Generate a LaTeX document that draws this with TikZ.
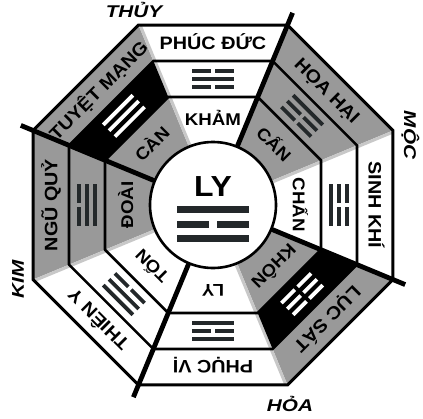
\documentclass[tikz,border=0pt]{standalone}
\usepackage{fontspec}
\usetikzlibrary{calc}
\setmainfont[FakeStretch=1.1]{Liberation Sans}
\newfontfamily\compassfont[FakeStretch=1.22]{Liberation Sans}
\definecolor{secgray}{RGB}{153,153,153}
\definecolor{softgray}{RGB}{200,200,200}
\definecolor{trink}{RGB}{35,40,42}
\def\yL{21}\def\yh{1.9}\def\yg{2}
\newcommand\myyao[3]{%
  \ifnum#2=1
    \fill[#3] (-\yL,#1-\yh) rectangle (\yL,#1+\yh);
  \else
    \fill[#3] (-\yL,#1-\yh) rectangle (-\yg,#1+\yh);
    \fill[#3] (\yg,#1-\yh) rectangle (\yL,#1+\yh);
  \fi}
\newcommand\mytri[5]{%
  \begin{scope}[shift={(#1:126)}, rotate=#1-90]
    \myyao{-8.3}{#2}{#5}\myyao{0}{#3}{#5}\myyao{8.3}{#4}{#5}
  \end{scope}}
\begin{document}
\begin{tikzpicture}[x=1pt,y=1pt,
  axisline/.style={line width=4.8pt},
  softedge/.style={line width=3pt, softgray},
  outerlbl/.style={font=\fontsize{18}{18}\selectfont\bfseries, inner sep=0pt, text height=13pt, text depth=0pt},
  innerlbl/.style={font=\fontsize{17}{17}\selectfont\bfseries, inner sep=0pt, text height=12.2pt, text depth=0pt},
  compass/.style={font=\compassfont\fontsize{17}{17}\selectfont\bfseries\itshape, inner sep=0pt, text height=12pt, text depth=0pt}]
\useasboundingbox (-213,-213) rectangle (210,205);
% gray sectors
\foreach \t in {135,45,180,-45}
  \fill[secgray] (0,0) -- (\t-22.5:194.83) -- (\t+22.5:194.83) -- cycle;
% soft fringes where gray meets white
\foreach \p/\o in {112.5/22.5, 22.5/-67.5, -67.5/-157.5, 202.5/292.5}
  \draw[softedge] ($(\p:63)+(\o:1.5)$) -- ($(\p:193)+(\o:1.5)$);
% black trigram bands
\foreach \t in {135,-45}
  \fill[black] (\t-22.5:155.87) -- (\t+22.5:155.87) -- (\t+22.5:116.90) -- (\t-22.5:116.90) -- cycle;
% ring octagons
\draw[line width=3pt, line join=miter] (22.5:194.83) \foreach \a in {67.5,112.5,...,337.5}{ -- (\a:194.83)} -- cycle;
\draw[line width=2.6pt, line join=miter] (22.5:155.87) \foreach \a in {67.5,112.5,...,337.5}{ -- (\a:155.87)} -- cycle;
\draw[line width=2.6pt, line join=miter] (22.5:116.90) \foreach \a in {67.5,112.5,...,337.5}{ -- (\a:116.90)} -- cycle;
% axis lines
\foreach \a in {67.5,157.5,247.5,337.5}
  \draw[axisline] (\a:62) -- (\a:208);
% centre
\filldraw[fill=white, line width=2.6pt] (0,0) circle[radius=63pt];
\node[font=\fontsize{29}{29}\selectfont\bfseries, inner sep=0pt, text height=21pt, text depth=0pt] (ly) at (0,18.7) {LY};
\begin{scope}
  \def\yL{36}\def\yh{3.3}\def\yg{4}
  \myyao{-4.3}{1}{trink}
  \myyao{-19.3}{0}{trink}
  \myyao{-33.7}{1}{trink}
\end{scope}
% trigrams
\mytri{90}{0}{1}{0}{trink}
\mytri{45}{0}{0}{1}{trink}
\mytri{0}{1}{0}{0}{trink}
\mytri{-45}{0}{0}{0}{white}
\mytri{-90}{1}{0}{1}{trink}
\mytri{-135}{0}{1}{1}{trink}
\mytri{180}{1}{1}{0}{trink}
\mytri{135}{1}{1}{1}{white}
% outer labels
\node[outerlbl, rotate=0] (o1) at (90:162) {PHÚC ĐỨC};
\node[outerlbl, rotate=-45] (o2) at (45:162) {HỌA HẠI};
\node[outerlbl, rotate=-90] (o3) at (0:162) {SINH KHÍ};
\node[outerlbl, rotate=-135] (o4) at (-45:162) {LỤC SÁT};
\node[outerlbl, rotate=180] (o5) at (-90:162) {PHỤC VỊ};
\node[outerlbl, rotate=135] (o6) at (-135:162) {THIÊN Y};
\node[outerlbl, rotate=90] (o7) at (180:162) {NGŨ QUỶ};
\node[outerlbl, rotate=45] (o8) at (135:162) {TUYỆT MẠNG};
% inner labels
\node[innerlbl, rotate=0] (i1) at (90:86) {KHẢM};
\node[innerlbl, rotate=-45] (i2) at (45:86) {CẤN};
\node[innerlbl, rotate=-90] (i3) at (0:86) {CHẤN};
\node[innerlbl, rotate=-135] (i4) at (-45:86) {KHÔN};
\node[innerlbl, rotate=180] (i5) at (-90:86) {LY};
\node[innerlbl, rotate=135] (i6) at (-135:86) {TỐN};
\node[innerlbl, rotate=90] (i7) at (180:86) {ĐOÀI};
\node[innerlbl, rotate=45] (i8) at (135:86) {CÀN};
% compass labels
\node[compass] (thuy) at (-79,193) {THỦY};
\node[compass, rotate=-90] (moc) at (197,70) {MỘC};
\node[compass] (hoa) at (77,-200) {HỎA};
\node[compass, rotate=90] (kim) at (-195,-74) {KIM};
\end{tikzpicture}
\end{document}
